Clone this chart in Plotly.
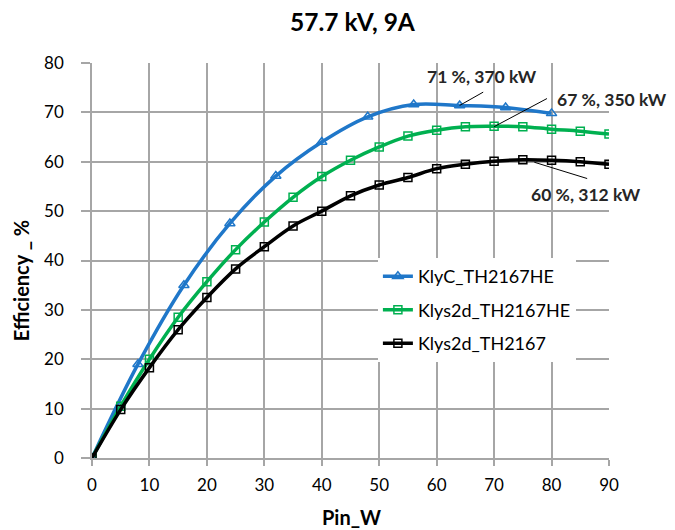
import plotly.graph_objects as go

title = "57.7 kV, 9A"
x_title = "Pin_W"
y_title = "Efficiency _ %"

klyc_x = [0, 8, 16, 24, 32, 40, 48, 56, 64, 72, 80]
klyc_y = [0, 19, 35, 47.5, 57.1, 64.0, 69.1, 71.6, 71.4, 71.0, 69.8]

hx = [0, 5, 10, 15, 20, 25, 30, 35, 40, 45, 50, 55, 60, 65, 70, 75, 80, 85, 90]
klys2d_he_y = [0, 10.5, 20, 28.5, 35.7, 42.2, 47.8, 52.8, 57.0, 60.3, 63.0, 65.2, 66.4, 67.1, 67.2, 67.1, 66.6, 66.2, 65.6]
klys2d_y = [0, 9.8, 18.3, 26.0, 32.5, 38.3, 42.8, 47.0, 50.0, 53.1, 55.3, 56.8, 58.6, 59.5, 60.1, 60.4, 60.3, 60.0, 59.5]

names = ["KlyC_TH2167HE", "Klys2d_TH2167HE", "Klys2d_TH2167"]
colors = ["#1F77C9", "#00B050", "#000000"]

ann_texts = ["71 %, 370 kW", "67 %, 350 kW", "60 %, 312 kW"]
ann_text_pos = [(67.9, 77.3, "center"), (80.6, 72.6, "left"), (76.0, 53.3, "left")]
ann_line_start = [(68.1, 74.1), (79.2, 72.8), (86.2, 56.6)]
ann_line_end = [(64, 71.4), (70, 67.1), (77, 59.9)]

font = "Lato, Carlito, Calibri, sans-serif"

fig = go.Figure()
fig.add_trace(go.Scatter(x=klyc_x, y=klyc_y, name=names[0], mode="lines+markers", legendgroup="a",
                         line=dict(color=colors[0], width=3.5, shape="spline"),
                         marker=dict(symbol="triangle-up-open", size=9, color=colors[0], line=dict(width=1.5))))
fig.add_trace(go.Scatter(x=hx, y=klys2d_he_y, name=names[1], mode="lines+markers", legendgroup="b",
                         line=dict(color=colors[1], width=3.5, shape="spline"),
                         marker=dict(symbol="square-open", size=8, color=colors[1], line=dict(width=1.5))))
fig.add_trace(go.Scatter(x=hx, y=klys2d_y, name=names[2], mode="lines+markers", legendgroup="c",
                         line=dict(color=colors[2], width=3.5, shape="spline"),
                         marker=dict(symbol="square-open", size=8, color=colors[2], line=dict(width=1.5))))

for t, (tx, ty, anc), (sx, sy), (ex, ey) in zip(ann_texts, ann_text_pos, ann_line_start, ann_line_end):
    fig.add_shape(type="line", x0=sx, y0=sy, x1=ex, y1=ey, xref="x", yref="y",
                  line=dict(color="#000000", width=1))
    fig.add_annotation(x=tx, y=ty, xref="x", yref="y", text="<b>" + t + "</b>", showarrow=False,
                       xanchor=anc, yanchor="middle", font=dict(size=17.5, color="#262626", family=font))

# title and axis titles as positioned text
fig.add_annotation(x=0.505, y=1.104, xref="paper", yref="paper", text="<b>" + title + "</b>",
                   showarrow=False, xanchor="center", yanchor="middle",
                   font=dict(size=24.5, color="#000000", family=font))
fig.add_annotation(x=0.501, y=-0.150, xref="paper", yref="paper", text="<b>" + x_title + "</b>",
                   showarrow=False, xanchor="center", yanchor="middle",
                   font=dict(size=20, color="#000000", family=font))
fig.add_annotation(x=-0.137, y=0.448, xref="paper", yref="paper", text="<b>" + y_title + "</b>",
                   showarrow=False, xanchor="center", yanchor="middle", textangle=-90,
                   font=dict(size=20, color="#000000", family=font))

grid = "#A6A6A6"
fig.update_layout(
    width=675, height=530,
    margin=dict(l=84, r=74, t=55, b=80),
    paper_bgcolor="white", plot_bgcolor="white",
    font=dict(family=font, size=17, color="#000000"),
    showlegend=True,
    legend=dict(x=0.553, y=0.506, xanchor="left", yanchor="top", bgcolor="white",
                font=dict(size=18, family=font, color="#000000"),
                tracegroupgap=7),
    xaxis=dict(range=[0, 90], dtick=10, tick0=0, showgrid=True, gridcolor=grid, gridwidth=1.5,
               zeroline=False, showline=True, linecolor=grid, linewidth=1.5,
               ticks="outside", ticklen=6, tickcolor=grid, tickwidth=1.5, ticklabelstandoff=5,
               tickfont=dict(size=17, color="#000000")),
    yaxis=dict(range=[0, 80], dtick=10, tick0=0, showgrid=True, gridcolor=grid, gridwidth=1.5,
               zeroline=False, showline=True, linecolor=grid, linewidth=1.5,
               ticks="outside", ticklen=9, tickcolor=grid, tickwidth=1.5, ticklabelstandoff=14,
               tickfont=dict(size=17, color="#000000")),
)

fig.write_html("out.html")
